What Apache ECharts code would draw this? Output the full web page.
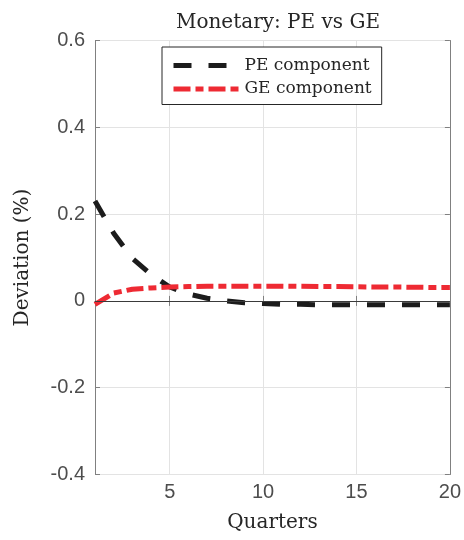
<!DOCTYPE html>
<html>
<head>
<meta charset="utf-8">
<script src="https://cdn.jsdelivr.net/npm/echarts@6/dist/echarts.min.js"></script>
<style>
  html, body { margin: 0; padding: 0; background: #ffffff; }
  #chart { width: 464px; height: 540px; }
</style>
</head>
<body>
<div id="chart"></div>
<script>
// Impulse response decomposition of a monetary shock (deviation, %)
const quarters = [1, 2, 3, 4, 5, 6, 7, 8, 9, 10, 11, 12, 13, 14, 15, 16, 17, 18, 19, 20];
const peComponent = [0.230, 0.156, 0.098, 0.061, 0.032, 0.016, 0.006, 0.000, -0.004, -0.006,
                     -0.008, -0.008, -0.009, -0.009, -0.009, -0.009, -0.009, -0.009, -0.009, -0.009];
const geComponent = [-0.008, 0.018, 0.027, 0.030, 0.032, 0.033, 0.034, 0.034, 0.034, 0.034,
                     0.034, 0.0335, 0.033, 0.033, 0.0325, 0.032, 0.032, 0.0315, 0.031, 0.031];
const seriesNames = ['PE component', 'GE component'];
const xTickValues = [5, 10, 15, 20];

const serif = 'DejaVu Serif';
const sans = 'Liberation Sans';
const axisGray = '#808080';
const labelGray = '#4d4d4d';
const textDark = '#262626';
const peStyle = { color: '#1c1c1c', width: 5, type: [18, 17], cap: 'butt' };
const geStyle = { color: '#ee2a33', width: 5, type: [17, 5, 8, 5], cap: 'butt' };

const toPairs = (ys) => quarters.map((q, i) => [q, ys[i]]);

const baseX = {
  type: 'value', min: 1, max: 20,
  axisLine: { show: true, lineStyle: { color: axisGray, width: 1 } },
  axisTick: { show: true, inside: true, length: 5, customValues: xTickValues, lineStyle: { color: axisGray } },
  splitLine: { show: false }
};
const baseY = {
  type: 'value', min: -0.4, max: 0.6, interval: 0.2,
  axisLine: { show: true, lineStyle: { color: axisGray, width: 1 } },
  axisTick: { show: true, inside: true, length: 5, lineStyle: { color: axisGray } }
};

const chart = echarts.init(document.getElementById('chart'), null, { renderer: 'canvas' });
chart.setOption({
  animation: false,
  backgroundColor: '#ffffff',
  title: {
    text: 'Monetary: PE vs GE',
    left: 273, top: 8, textAlign: 'center',
    textStyle: { fontFamily: serif, fontWeight: 'normal', fontSize: 20, color: textDark }
  },
  grid: { left: 95, right: 13, top: 40.5, bottom: 65.5, containLabel: false },
  legend: {
    left: 162, top: 47, orient: 'vertical',
    itemWidth: 66, itemHeight: 20, itemGap: 6.5,
    padding: [10, 10, 7, 9],
    borderColor: textDark, borderWidth: 1, backgroundColor: '#ffffff',
    itemStyle: { opacity: 0 },
    textStyle: { fontFamily: serif, fontSize: 17, color: textDark },
    data: [
      { name: seriesNames[0], itemStyle: { opacity: 0 }, lineStyle: peStyle },
      { name: seriesNames[1], itemStyle: { opacity: 0 }, lineStyle: geStyle }
    ]
  },
  xAxis: [
    Object.assign({}, baseX, {
      position: 'bottom',
      name: 'Quarters', nameLocation: 'middle', nameGap: 38,
      nameTextStyle: { fontFamily: serif, fontSize: 20, color: textDark },
      axisLabel: { show: true, margin: 8, customValues: xTickValues, fontFamily: sans, fontSize: 20, color: labelGray },
      splitLine: { show: true, lineStyle: { color: '#e3e3e3', width: 1 } }
    }),
    Object.assign({}, baseX, { position: 'top', axisLabel: { show: false } })
  ],
  yAxis: [
    Object.assign({}, baseY, {
      position: 'left',
      name: 'Deviation (%)', nameLocation: 'middle', nameGap: 62,
      nameTextStyle: { fontFamily: serif, fontSize: 20, color: textDark },
      axisLabel: {
        show: true, margin: 10, fontFamily: sans, fontSize: 20, color: labelGray,
        formatter: (v) => (Math.abs(v) < 1e-9 ? '0' : v.toFixed(1))
      },
      splitLine: { show: true, lineStyle: { color: '#e3e3e3', width: 1 } }
    }),
    Object.assign({}, baseY, { position: 'right', axisLabel: { show: false }, splitLine: { show: false } })
  ],
  series: [
    {
      name: seriesNames[0], type: 'line', xAxisIndex: 0, yAxisIndex: 0,
      data: toPairs(peComponent),
      symbol: 'none', smooth: false,
      lineStyle: peStyle,
      itemStyle: { color: peStyle.color },
      markLine: {
        silent: true, symbol: 'none', label: { show: false },
        lineStyle: { color: '#3a3a3a', width: 1, type: 'solid' },
        data: [{ yAxis: 0 }]
      },
      z: 3
    },
    {
      name: seriesNames[1], type: 'line', xAxisIndex: 0, yAxisIndex: 0,
      data: toPairs(geComponent),
      symbol: 'none', smooth: false,
      lineStyle: geStyle,
      itemStyle: { color: geStyle.color },
      z: 4
    }
  ]
});
</script>
</body>
</html>
